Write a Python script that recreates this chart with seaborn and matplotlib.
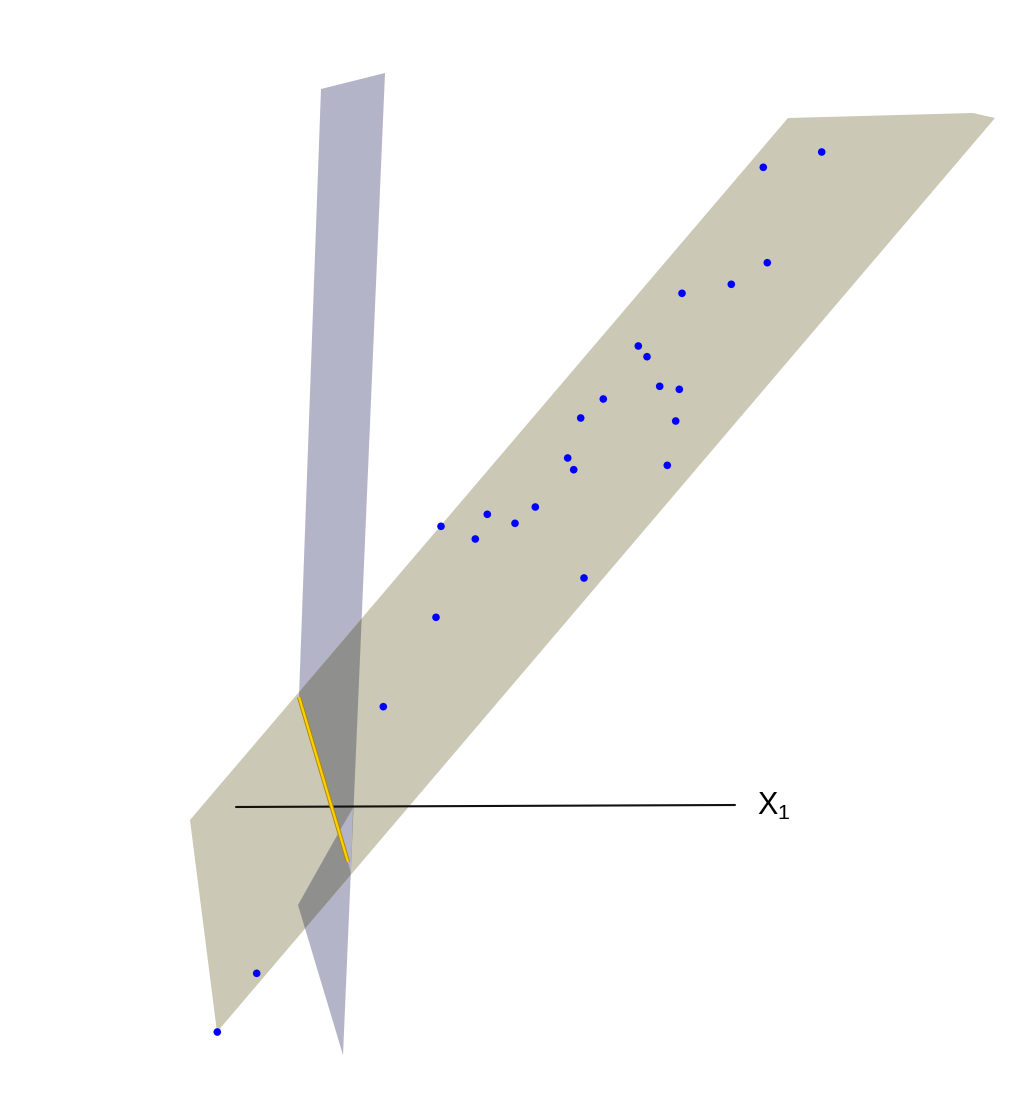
import matplotlib
matplotlib.use("Agg")
import matplotlib.pyplot as plt
import seaborn as sns
import pandas as pd

# projected geometry of the 3d scene (screen coordinates, y grows downward)
tan_plane_x = [190, 788, 973, 995, 217]
tan_plane_y = [820, 118, 113, 118, 1032]

purple_plane_x = [321, 385, 343, 298, 339, 299]
purple_plane_y = [89, 73, 1055, 905, 832, 697]

# small part of the vertical plane that sits in front of the tilted one
front_x = [339, 353, 351]
front_y = [832, 808, 873]

# intersection of the two planes
cut_x = [299, 348]
cut_y = [697, 862]

# X1 axis
axis_x = [236, 735]
axis_y = [807, 805]
axis_label = "X$_1$"

# observations
pts_x = [821.7, 763.3, 767.3, 731.3, 682.0, 638.3, 647.0, 659.7, 679.3, 603.3,
         580.7, 675.7, 567.7, 573.7, 667.3, 535.3, 487.3, 515.0, 441.0, 475.3,
         584.0, 436.0, 383.3, 256.7, 217.3]
pts_y = [152.0, 167.3, 262.7, 284.3, 293.3, 346.0, 356.7, 386.3, 389.3, 399.0,
         418.0, 421.0, 458.0, 469.7, 465.3, 507.0, 514.3, 523.3, 526.3, 539.0,
         578.0, 617.3, 706.7, 973.3, 1032.0]

sns.set_theme(style="white")
plt.rcParams["font.family"] = ["Liberation Sans", "DejaVu Sans"]
plt.rcParams["mathtext.fontset"] = "custom"
plt.rcParams["mathtext.rm"] = "Liberation Sans"
plt.rcParams["mathtext.default"] = "regular"

fig = plt.figure(figsize=(10.32, 11.08), dpi=100)
ax = fig.add_axes([0, 0, 1, 1])

# planes
purple = ax.fill(purple_plane_x, purple_plane_y, color="#b4b4c8", lw=0, zorder=1)[0]
ax.fill(tan_plane_x, tan_plane_y, color="#ccc8b6", lw=0, zorder=2)
overlap = ax.fill(tan_plane_x, tan_plane_y, color="#8f8f8d", lw=0, zorder=3)[0]
overlap.set_clip_path(purple)

# axis line (partly behind the tilted plane)
ax.plot(axis_x, axis_y, color="#111111", lw=1.5, zorder=4)
ax.fill(front_x, front_y, color="#b4b4c8", lw=0, zorder=4.5)
ax.text(axis_x[1] + 22, axis_y[1] + 1, axis_label, fontsize=22, color="black",
        ha="left", va="center", zorder=6)

# intersection line
ax.plot(cut_x, cut_y, color="#b08a00", lw=3.0, zorder=5, solid_capstyle="butt")
ax.plot(cut_x, cut_y, color="#ffd000", lw=1.6, zorder=5, solid_capstyle="butt")

df = pd.DataFrame({"x": pts_x, "y": pts_y})
sns.scatterplot(data=df, x="x", y="y", ax=ax, color="#0000ff", s=30,
                edgecolor="none", zorder=7, legend=False)
ax.set_xlim(0, 1032)
ax.set_ylim(1108, 0)
ax.axis("off")

fig.savefig("out.png", dpi=100, facecolor="white")
